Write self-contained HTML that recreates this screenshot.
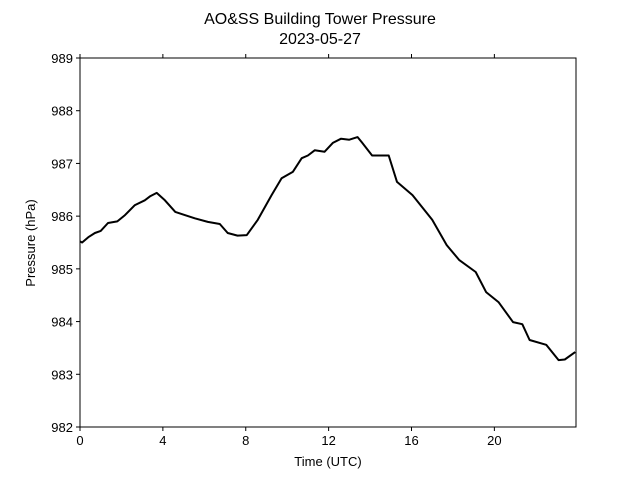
<!DOCTYPE html>
<html><head><meta charset="utf-8"><style>
body{margin:0;background:#fff;}
svg{display:block;font-family:"Liberation Sans","DejaVu Sans",sans-serif;}
</style></head><body>
<svg id="chart" width="640" height="480">
<rect width="640" height="480" fill="#fff"/>
<text x="320" y="24" text-anchor="middle" font-size="16">AO&amp;SS Building Tower Pressure</text>
<text x="320" y="44" text-anchor="middle" font-size="16">2023-05-27</text>
<text x="328" y="466" text-anchor="middle" font-size="13">Time (UTC)</text>
<text transform="translate(35,243) rotate(-90)" text-anchor="middle" font-size="13">Pressure (hPa)</text>
<g id="axes"></g>
<path id="line" fill="none" stroke="#000" stroke-width="2" stroke-linejoin="round"/>
<rect x="80" y="58" width="496" height="369" fill="none" stroke="#000" stroke-width="1"/>
</svg>
<script>
const hours = [0,0.1,0.4,0.72,1.0,1.35,1.8,2.17,2.65,3.13,3.4,3.7,4.1,4.6,5.06,5.54,6.17,6.75,7.13,7.6,8.05,8.58,9.25,9.73,10.27,10.7,11.0,11.33,11.8,12.2,12.6,13.0,13.4,13.6,14.1,14.9,15.3,16.05,17.0,17.7,18.3,19.1,19.6,20.2,20.9,21.35,21.7,22.5,23.1,23.4,23.9];
const pressure = [985.52,985.5,985.6,985.68,985.72,985.87,985.9,986.02,986.21,986.3,986.38,986.44,986.3,986.08,986.02,985.96,985.89,985.85,985.68,985.63,985.64,985.93,986.4,986.72,986.84,987.1,987.15,987.25,987.22,987.39,987.47,987.45,987.5,987.4,987.15,987.15,986.65,986.4,985.93,985.45,985.17,984.94,984.56,984.37,983.99,983.95,983.65,983.56,983.27,983.28,983.42];
const xTicks = [0,4,8,12,16,20];
const yTicks = [982,983,984,985,986,987,988,989];
const X0=80,X1=576,Y0=58,Y1=427,XMIN=0,XMAX=23.94,YMIN=982,YMAX=989;
const sx=v=>X0+(v-XMIN)/(XMAX-XMIN)*(X1-X0);
const sy=v=>Y1-(v-YMIN)/(YMAX-YMIN)*(Y1-Y0);
const NS="http://www.w3.org/2000/svg";
const g=document.getElementById('axes');
function mk(t,a){const e=document.createElementNS(NS,t);for(const k in a)e.setAttribute(k,a[k]);g.appendChild(e);return e;}
xTicks.forEach(t=>{
 const x=sx(t);
 const tk=mk('line',{x1:x,x2:x,y1:Y1,y2:Y1+4,stroke:'#000'});
 
 
 const tt=mk('line',{x1:x,x2:x,y1:Y0,y2:Y0-4,stroke:'#000'});
 
 
 const l=mk('text',{x:x,y:Y1+18,'text-anchor':'middle','font-size':13});
 l.textContent=t;
 
 
});
yTicks.forEach(t=>{
 const y=sy(t);
 const tk=mk('line',{x1:X0-4,x2:X0,y1:y,y2:y,stroke:'#000'});
 
 
 const l=mk('text',{x:X0-7,y:y+5,'text-anchor':'end','font-size':13});
 l.textContent=t;
 
 
});
document.getElementById('line').setAttribute('d',hours.map((h,i)=>(i?'L':'M')+sx(h).toFixed(1)+','+sy(pressure[i]).toFixed(1)).join(''));
</script>
</body></html>
